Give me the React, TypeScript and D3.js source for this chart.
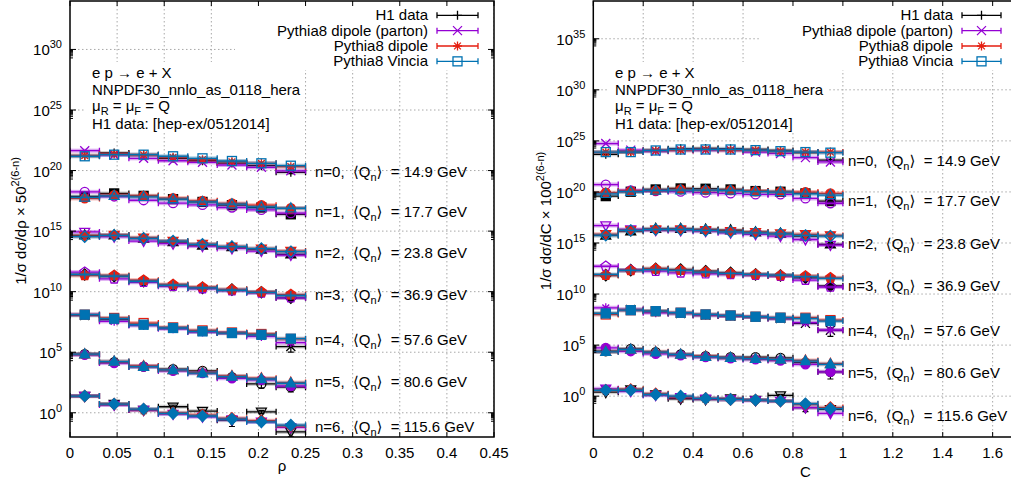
import React from 'react';
import * as d3 from 'd3';

const FONT = '"Liberation Sans", Arial, Helvetica, "DejaVu Sans", sans-serif';
const FS = 15;

const SERIES_NAMES = ['H1 data', 'Pythia8 dipole (parton)', 'Pythia8 dipole', 'Pythia8 Vincia'];
const SERIES_COLORS = ['#000000', '#9400d3', '#e51e10', '#0072b2'];
const Q_MEAN = ['14.9', '17.7', '23.8', '36.9', '57.6', '80.6', '115.6'];

// ---------- rho (jet mass) panel ----------
const RHO_EDGES = [0, 0.03125, 0.0625, 0.09375, 0.125, 0.15625, 0.1875, 0.21875, 0.25];
const RHO_TICKS = [0, 0.05, 0.1, 0.15, 0.2, 0.25, 0.3, 0.35, 0.4, 0.45];
const RHO_H1 = [
  [6.95, 11.5, 8.36, 4.19, 2.64, 1.71, 1.03, 0.29],
  [7.41, 13.2, 8.32, 4.47, 2.63, 1.41, 0.91, 0.25],
  [11.4, 11.4, 6.43, 3.22, 1.69, 1.22, 0.79, 0.31],
  [16.8, 12.2, 4.63, 2.17, 1.31, 0.95, 0.57, 0.2],
  [17.5, 7.83, 2.98, 1.6, 0.84, 0.61, 0.44, 0.047],
  [27.7, 6.05, 2.58, 1.59, 1.15, 0.35, 0.096, 0.052],
  [24.0, 5.25, 1.66, 3.16, 1.38, 0.245, 1.2, 0.026],
];
const RHO_H1_ERR = [
  [0.08, 0.08, 0.08, 0.08, 0.08, 0.08, 0.1, 0.2],
  [0.08, 0.08, 0.08, 0.08, 0.08, 0.08, 0.1, 0.2],
  [0.08, 0.08, 0.08, 0.08, 0.08, 0.08, 0.1, 0.2],
  [0.08, 0.08, 0.08, 0.08, 0.08, 0.08, 0.1, 0.3],
  [0.08, 0.08, 0.08, 0.08, 0.08, 0.1, 0.15, 0.65],
  [0.08, 0.08, 0.08, 0.1, 0.1, 0.2, 0.55, 0.6],
  [0.1, 0.15, 0.5, 0.35, 0.2, 0.7, 0.3, 0.6],
];
const RHO_PARTON = [
  [17.9, 7.98, 4.19, 2.64, 1.96, 1.18, 0.76, 0.39],
  [17.8, 7.41, 3.63, 2.09, 1.48, 0.91, 0.575, 0.31],
  [21.8, 8.87, 3.87, 2.33, 1.47, 0.95, 0.57, 0.27],
  [26.1, 7.35, 3.85, 1.8, 1.16, 0.79, 0.51, 0.2],
  [20.1, 5.68, 2.59, 1.39, 0.75, 0.61, 0.32, 0.1],
  [24.1, 5.04, 2.58, 1.15, 0.745, 0.283, 0.205, 0.065],
  [24.0, 4.37, 1.66, 0.78, 0.47, 0.28, 0.178, 0.062],
];
const RHO_DIPOLE = [
  [6.95, 9.6, 7.98, 5.04, 3.25, 2.2, 1.63, 0.855],
  [5.13, 9.55, 8.32, 5.37, 3.24, 1.95, 1.41, 0.79],
  [9.95, 12.2, 7.38, 3.87, 2.18, 1.34, 0.91, 0.57],
  [14.0, 14.0, 5.7, 2.49, 1.5, 0.95, 0.61, 0.37],
  [20.1, 10.8, 4.11, 1.79, 1.01, 0.68, 0.51, 0.2],
  [27.7, 6.79, 2.96, 1.39, 0.835, 0.44, 0.283, 0.124],
  [24.0, 5.25, 1.91, 1.0, 0.65, 0.35, 0.22, 0.083],
];
const RHO_VINCIA = [
  [6.19, 8.36, 8.36, 6.19, 4.19, 2.52, 1.63, 1.03],
  [6.17, 8.32, 6.92, 4.47, 2.63, 1.7, 1.02, 0.79],
  [8.87, 11.4, 6.43, 3.87, 2.08, 1.34, 0.91, 0.51],
  [16.8, 12.2, 4.63, 2.17, 1.31, 0.84, 0.57, 0.31],
  [20.1, 9.42, 2.98, 1.6, 0.84, 0.61, 0.44, 0.21],
  [27.7, 6.79, 2.58, 1.39, 0.745, 0.39, 0.247, 0.11],
  [24.0, 5.25, 2.04, 0.89, 0.54, 0.3, 0.178, 0.095],
];
const RHO_LABEL_Y = [8.1e19, 4.1e16, 1.6e13, 5.4e9, 1.0e6, 372, 0.071];

// ---------- C-parameter panel ----------
const C_EDGES = [0, 0.1, 0.2, 0.3, 0.4, 0.5, 0.6, 0.7, 0.8, 0.9, 1.0];
const C_TICKS = [0, 0.2, 0.4, 0.6, 0.8, 1.0, 1.2, 1.4, 1.6];
const C_H1 = [
  [0.48, 0.8, 1.15, 1.7, 1.82, 1.7, 1.44, 1.15, 0.7, 0.13],
  [0.39, 1.05, 1.74, 2.19, 2.05, 1.74, 1.21, 1.05, 0.71, 0.128],
  [0.55, 1.44, 2.45, 2.45, 2.09, 1.77, 1.14, 0.85, 0.47, 0.074],
  [0.71, 2.19, 2.95, 2.51, 1.73, 1.2, 0.83, 0.66, 0.39, 0.062],
  [1.26, 3.02, 2.09, 1.26, 0.86, 0.69, 0.55, 0.4, 0.135, 0.028],
  [2.51, 4.26, 2.04, 1.2, 0.83, 0.66, 0.66, 0.57, 0.19, 0.024],
  [2.45, 4.47, 1.45, 0.56, 0.48, 0.6, 0.41, 1.17, 0.076, 0.051],
];
const C_H1_ERR = [
  [0.1, 0.08, 0.08, 0.08, 0.08, 0.08, 0.08, 0.08, 0.1, 0.2],
  [0.1, 0.08, 0.08, 0.08, 0.08, 0.08, 0.08, 0.08, 0.1, 0.2],
  [0.1, 0.08, 0.08, 0.08, 0.08, 0.08, 0.08, 0.08, 0.1, 0.25],
  [0.1, 0.08, 0.08, 0.08, 0.08, 0.08, 0.08, 0.08, 0.1, 0.3],
  [0.1, 0.08, 0.08, 0.08, 0.08, 0.08, 0.08, 0.1, 0.2, 0.75],
  [0.1, 0.08, 0.08, 0.08, 0.08, 0.08, 0.1, 0.1, 0.2, 0.8],
  [0.4, 0.15, 0.15, 0.5, 0.5, 0.2, 0.2, 0.25, 0.6, 0.3],
];
const C_PARTON = [
  [5.5, 1.24, 0.98, 1.24, 1.24, 1.24, 0.8, 0.59, 0.23, 0.086],
  [5.25, 1.39, 1.21, 1.05, 0.84, 0.71, 0.57, 0.57, 0.23, 0.078],
  [5.12, 2.09, 1.77, 1.69, 1.44, 1.0, 0.7, 0.47, 0.22, 0.063],
  [5.25, 2.19, 1.73, 1.2, 0.97, 0.83, 0.71, 0.58, 0.234, 0.049],
  [4.47, 3.02, 1.47, 1.26, 0.86, 0.69, 0.55, 0.4, 0.159, 0.03],
  [5.36, 2.51, 1.41, 0.97, 0.66, 0.5, 0.4, 0.31, 0.131, 0.024],
  [5.25, 3.02, 1.26, 0.79, 0.56, 0.48, 0.38, 0.33, 0.076, 0.021],
];
const C_DIPOLE = [
  [0.8, 0.8, 1.15, 1.24, 1.44, 1.24, 1.24, 0.98, 0.8, 0.8],
  [0.84, 1.21, 1.39, 1.74, 1.48, 1.48, 1.21, 1.05, 0.96, 0.71],
  [0.7, 1.69, 2.09, 2.09, 1.77, 1.44, 1.14, 0.85, 0.7, 0.55],
  [0.71, 2.04, 2.95, 2.19, 1.51, 1.04, 0.83, 0.66, 0.58, 0.39],
  [1.0, 2.63, 2.09, 1.47, 1.0, 0.79, 0.6, 0.48, 0.48, 0.28],
  [2.18, 3.71, 2.18, 1.2, 0.83, 0.57, 0.5, 0.4, 0.31, 0.151],
  [3.8, 4.47, 1.7, 0.87, 0.6, 0.48, 0.41, 0.33, 0.16, 0.076],
];
const C_VINCIA = [
  [0.8, 0.8, 1.15, 1.44, 1.44, 1.44, 1.24, 0.98, 0.8, 0.7],
  [0.66, 1.05, 1.39, 1.48, 1.48, 1.39, 1.05, 0.96, 0.66, 0.49],
  [0.58, 1.69, 2.09, 2.09, 1.69, 1.25, 1.0, 0.79, 0.55, 0.47],
  [0.83, 2.04, 2.51, 2.04, 1.38, 1.04, 0.83, 0.71, 0.5, 0.34],
  [1.26, 2.63, 2.09, 1.47, 1.0, 0.79, 0.6, 0.48, 0.4, 0.224],
  [2.18, 3.71, 2.04, 1.2, 0.73, 0.57, 0.47, 0.4, 0.27, 0.131],
  [3.8, 3.8, 1.45, 1.0, 0.6, 0.48, 0.41, 0.33, 0.18, 0.06],
];
const C_LABEL_Y = [1.05e23, 1.26e19, 7.2e14, 5.9e10, 2.3e6, 195, 0.011];

type PanelCfg = {
  edges: number[];
  ticks: number[];
  series: number[][][];
  h1err: number[][];
  base: number;
  xDomain: [number, number];
  xRange: [number, number];
  yDomain: [number, number];
  yExps: number[];
  labelY: number[];
  labelX: number;
  varName: string;
  baseText: string;
  legendRight: number;
  sample: [number, number];
  annotX: number;
  keyBox: [number, number];
  annotBox: [number, number];
  yTitleX: number;
  xTitleY: number;
};

const PANELS: PanelCfg[] = [
  {
    edges: RHO_EDGES, ticks: RHO_TICKS,
    series: [RHO_H1, RHO_PARTON, RHO_DIPOLE, RHO_VINCIA], h1err: RHO_H1_ERR,
    base: 50, xDomain: [0, 0.45], xRange: [70, 494], yDomain: [1e-2, 1e34],
    yExps: [0, 5, 10, 15, 20, 25, 30], labelY: RHO_LABEL_Y, labelX: 0.26,
    varName: 'ρ', baseText: '50', legendRight: 428, sample: [437, 478],
    annotX: 92, keyBox: [235, 494], annotBox: [85, 305], yTitleX: 26, xTitleY: 471,
  },
  {
    edges: C_EDGES, ticks: C_TICKS,
    series: [C_H1, C_PARTON, C_DIPOLE, C_VINCIA], h1err: C_H1_ERR,
    base: 100, xDomain: [0, 1.7], xRange: [593.3, 1017.6], yDomain: [1e-4, 5e38],
    yExps: [0, 5, 10, 15, 20, 25, 30, 35], labelY: C_LABEL_Y, labelX: 1.02,
    varName: 'C', baseText: '100', legendRight: 953, sample: [962, 1001],
    annotX: 615, keyBox: [760, 1018], annotBox: [608, 828], yTitleX: 551, xTitleY: 477,
  },
];

const PLOT_TOP = 1;
const PLOT_BOTTOM = 437;

function Marker({ pt, cx, cy, color }: { pt: number; cx: number; cy: number; color: string }) {
  const t = ((pt - 1) % 15) + 1;
  const s = 4.5;
  const sw = 1.3;
  const common = { stroke: color, strokeWidth: sw };
  const open = { ...common, fill: 'none' };
  const filled = { ...common, fill: color };
  const poly = (pts: [number, number][]) => pts.map((p) => `${cx + p[0]},${cy + p[1]}`).join(' ');
  switch (t) {
    case 1:
      return <path d={`M${cx - s},${cy}H${cx + s}M${cx},${cy - s}V${cy + s}`} {...open} />;
    case 2:
      return <path d={`M${cx - s},${cy - s}L${cx + s},${cy + s}M${cx - s},${cy + s}L${cx + s},${cy - s}`} {...open} />;
    case 3:
      return (
        <path
          d={`M${cx - s},${cy}H${cx + s}M${cx},${cy - s}V${cy + s}M${cx - s * 0.75},${cy - s * 0.75}L${cx + s * 0.75},${cy + s * 0.75}M${cx - s * 0.75},${cy + s * 0.75}L${cx + s * 0.75},${cy - s * 0.75}`}
          {...open}
        />
      );
    case 4:
    case 5:
      return <rect x={cx - s} y={cy - s} width={2 * s} height={2 * s} {...(t === 5 ? filled : open)} />;
    case 6:
    case 7:
      return <circle cx={cx} cy={cy} r={s} {...(t === 7 ? filled : open)} />;
    case 8:
    case 9:
      return <polygon points={poly([[0, -s * 1.2], [s * 1.1, s * 0.8], [-s * 1.1, s * 0.8]])} {...(t === 9 ? filled : open)} />;
    case 10:
    case 11:
      return <polygon points={poly([[0, s * 1.2], [s * 1.1, -s * 0.8], [-s * 1.1, -s * 0.8]])} {...(t === 11 ? filled : open)} />;
    case 12:
    case 13:
      return <polygon points={poly([[0, -s * 1.25], [s * 1.25, 0], [0, s * 1.25], [-s * 1.25, 0]])} {...(t === 13 ? filled : open)} />;
    default: {
      const pts: [number, number][] = d3.range(5).map((k) => {
        const a = -Math.PI / 2 + (k * 2 * Math.PI) / 5;
        return [Math.cos(a) * s * 1.15, Math.sin(a) * s * 1.15];
      });
      return <polygon points={poly(pts)} {...(t === 15 ? filled : open)} />;
    }
  }
}

function Pow10({ x, y, exp, anchor }: { x: number; y: number; exp: number; anchor: string }) {
  return (
    <text x={x} y={y} textAnchor={anchor} fontSize={FS}>
      10
      <tspan dy={-7} fontSize={11}>{exp}</tspan>
    </text>
  );
}

function Panel({ cfg, idx }: { cfg: PanelCfg; idx: number }) {
  const x = d3.scaleLinear().domain(cfg.xDomain).range(cfg.xRange);
  const y = d3.scaleLog().domain(cfg.yDomain).range([PLOT_BOTTOM, PLOT_TOP]);
  const [x0, x1] = cfg.xRange;
  const clipId = `clip${idx}`;
  const grid = '#a8a8a8';

  // minor ticks: k * 10^(m-1) for each major 10^m
  const minor: number[] = [];
  const allMaj = [...cfg.yExps, cfg.yExps[cfg.yExps.length - 1] + 5];
  allMaj.forEach((m) => {
    for (let k = 2; k <= 9; k++) {
      const v = k * Math.pow(10, m - 1);
      if (v > cfg.yDomain[0] && v < cfg.yDomain[1]) minor.push(v);
    }
  });

  const fmtX = (v: number) => String(+v.toFixed(2));

  return (
    <g>
      <defs>
        <clipPath id={clipId}>
          <rect x={x0} y={PLOT_TOP} width={x1 - x0} height={PLOT_BOTTOM - PLOT_TOP} />
        </clipPath>
      </defs>
      {/* grid */}
      <g stroke={grid} strokeWidth={1} strokeDasharray="1.5,2.5" clipPath={`url(#${clipId})`}>
        {cfg.ticks.filter((t) => t > cfg.xDomain[0]).map((t) => (
          <line key={`gx${t}`} x1={x(t)} x2={x(t)} y1={PLOT_TOP} y2={PLOT_BOTTOM} />
        ))}
        {cfg.yExps.map((e) => (
          <line key={`gy${e}`} x1={x0} x2={x1} y1={y(Math.pow(10, e))} y2={y(Math.pow(10, e))} />
        ))}
      </g>
      {/* opaque boxes for key and labels */}
      <rect x={cfg.keyBox[0]} y={PLOT_TOP + 1} width={cfg.keyBox[1] - cfg.keyBox[0] - 1} height={68} fill="#fff" />
      <rect x={cfg.annotBox[0]} y={62} width={cfg.annotBox[1] - cfg.annotBox[0]} height={71} fill="#fff" />

      {/* data */}
      <g clipPath={`url(#${clipId})`}>
        {cfg.series[0].map((_, n) => {
          const f = Math.pow(cfg.base, 2 * (6 - n));
          return (
            <g key={`n${n}`}>
              {cfg.series.map((ser, s) => {
                const color = SERIES_COLORS[s];
                const pt = 1 + 4 * n + s;
                return (
                  <g key={`s${s}`}>
                    {ser[n].map((v, i) => {
                      const xl = x(cfg.edges[i]);
                      const xr = x(cfg.edges[i + 1]);
                      const xc = x((cfg.edges[i] + cfg.edges[i + 1]) / 2);
                      const yv = y(v * f);
                      let err = null;
                      if (s === 0) {
                        const e = cfg.h1err[n][i];
                        const yt = y(v * (1 + e) * f);
                        const yb = y(Math.max(v * (1 - e), v * 0.02) * f);
                        err = (
                          <path
                            d={`M${xc},${yt}V${yb}M${xc - 3},${yt}H${xc + 3}M${xc - 3},${yb}H${xc + 3}`}
                            stroke={color}
                            strokeWidth={1.2}
                            fill="none"
                          />
                        );
                      }
                      return (
                        <g key={`b${i}`}>
                          <line x1={xl} x2={xr} y1={yv} y2={yv} stroke={s === 0 ? '#777' : color} strokeOpacity={0.35} strokeWidth={4} />
                          <path
                            d={`M${xl},${yv}H${xr}M${xl},${yv - 3}V${yv + 3}M${xr},${yv - 3}V${yv + 3}`}
                            stroke={color}
                            strokeWidth={1.3}
                            fill="none"
                          />
                          {err}
                          <Marker pt={pt} cx={xc} cy={yv} color={color} />
                        </g>
                      );
                    })}
                  </g>
                );
              })}
            </g>
          );
        })}
      </g>

      {/* row labels */}
      {cfg.labelY.map((lv, n) => (
        <text key={`lab${n}`} x={x(cfg.labelX)} y={y(lv) + 5} fontSize={FS} style={{ whiteSpace: 'pre' }}>
          {`n=${n},  ⟨Q`}
          <tspan dy={4} fontSize={11}>n</tspan>
          <tspan dy={-4}>{`⟩  = ${Q_MEAN[n]} GeV`}</tspan>
        </text>
      ))}

      {/* border */}
      <rect x={x0} y={PLOT_TOP} width={x1 - x0} height={PLOT_BOTTOM - PLOT_TOP} fill="none" stroke="#000" strokeWidth={1.5} />

      {/* x ticks */}
      {cfg.ticks.map((t) => (
        <g key={`tx${t}`}>
          <line x1={x(t)} x2={x(t)} y1={PLOT_BOTTOM} y2={PLOT_BOTTOM - 5} stroke="#000" strokeWidth={1} />
          <line x1={x(t)} x2={x(t)} y1={PLOT_TOP} y2={PLOT_TOP + 5} stroke="#000" strokeWidth={1} />
          <text x={x(t)} y={PLOT_BOTTOM + 21} textAnchor="middle" fontSize={FS}>{fmtX(t)}</text>
        </g>
      ))}
      {/* y ticks */}
      {cfg.yExps.map((e) => {
        const yy = y(Math.pow(10, e));
        return (
          <g key={`ty${e}`}>
            <line x1={x0} x2={x0 + 6} y1={yy} y2={yy} stroke="#000" strokeWidth={1} />
            <line x1={x1} x2={x1 - 6} y1={yy} y2={yy} stroke="#000" strokeWidth={1} />
            <Pow10 x={x0 - 8} y={yy + 6} exp={e} anchor="end" />
          </g>
        );
      })}
      {minor.map((v, i) => (
        <g key={`my${i}`}>
          <line x1={x0} x2={x0 + 3} y1={y(v)} y2={y(v)} stroke="#000" strokeWidth={1} />
          <line x1={x1} x2={x1 - 3} y1={y(v)} y2={y(v)} stroke="#000" strokeWidth={1} />
        </g>
      ))}

      {/* legend */}
      {SERIES_NAMES.map((name, s) => {
        const ry = 15.3 + s * 15.35;
        const [sa, sb] = cfg.sample;
        return (
          <g key={`leg${s}`}>
            <text x={cfg.legendRight} y={ry + 5} textAnchor="end" fontSize={FS}>{name}</text>
            <path
              d={`M${sa},${ry}H${sb}M${sa},${ry - 3}V${ry + 3}M${sb},${ry - 3}V${ry + 3}`}
              stroke={SERIES_COLORS[s]}
              strokeWidth={1.3}
              fill="none"
            />
            <Marker pt={s + 1} cx={(sa + sb) / 2} cy={ry} color={SERIES_COLORS[s]} />
          </g>
        );
      })}

      {/* annotation */}
      <g fontSize={FS}>
        <text x={cfg.annotX} y={78}>e p → e + X</text>
        <text x={cfg.annotX} y={94.5}>NNPDF30_nnlo_as_0118_hera</text>
        <text x={cfg.annotX} y={111}>
          μ<tspan dy={4} fontSize={11}>R</tspan>
          <tspan dy={-4}> = μ</tspan>
          <tspan dy={4} fontSize={11}>F</tspan>
          <tspan dy={-4}> = Q</tspan>
        </text>
        <text x={cfg.annotX} y={129}>H1 data: [hep-ex/0512014]</text>
      </g>

      {/* axis titles */}
      <text transform={`translate(${cfg.yTitleX},221) rotate(-90)`} textAnchor="middle" fontSize={FS}>
        {`1/σ dσ/d${cfg.varName} × ${cfg.baseText}`}
        <tspan dy={-7} fontSize={11}>2(6-n)</tspan>
      </text>
      <text x={(x0 + x1) / 2} y={cfg.xTitleY} textAnchor="middle" fontSize={FS}>{cfg.varName}</text>
    </g>
  );
}

export default function App() {
  return (
    <svg
      width={1011}
      height={484}
      style={{ position: 'absolute', left: 0, top: 0, display: 'block', background: '#fff' }}
      fontFamily={FONT}
    >
      <rect width={1011} height={484} fill="#fff" />
      {PANELS.map((cfg, i) => (
        <Panel key={i} cfg={cfg} idx={i} />
      ))}
    </svg>
  );
}
